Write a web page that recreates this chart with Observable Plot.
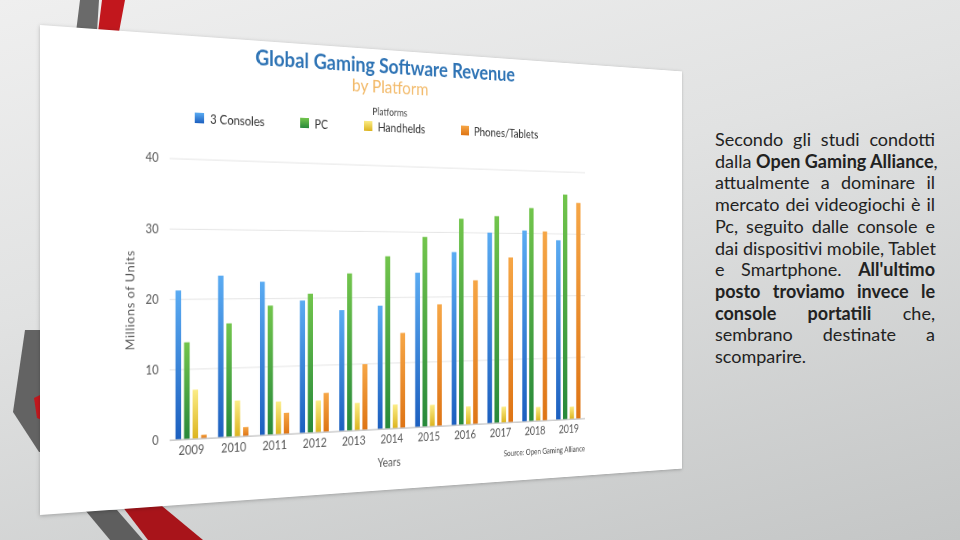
<!DOCTYPE html>
<html>
<head>
<meta charset="utf-8">
<script src="https://cdn.jsdelivr.net/npm/d3@7"></script>
<script src="https://cdn.jsdelivr.net/npm/@observablehq/plot@0.6"></script>
<style>
html,body{margin:0;padding:0;}
body{width:960px;height:540px;overflow:hidden;position:relative;
  background:linear-gradient(165deg,#efefef 0%,#e1e2e2 40%,#c4c6c6 100%);
  font-family:Lato,"Open Sans",sans-serif;}
.deco{position:absolute;left:0;top:0;width:960px;height:540px;}
#card{position:absolute;left:40px;top:25px;width:840px;height:490px;background:#fff;
  transform-origin:0 50%;transform:perspective(1200px) rotateY(19.5deg);
  box-shadow:0 1px 4px rgba(0,0,0,0.25);}
#card .t{position:absolute;white-space:nowrap;}
#title{left:415px;top:6px;transform:translateX(-50%);font-weight:700;font-size:23px;line-height:22px;color:#2f74b5;}
#subtitle{left:415px;top:31px;transform:translateX(-50%);font-size:20px;line-height:18px;color:#f2b968;}
#legtitle{left:414px;top:63px;transform:translateX(-50%);font-size:11px;line-height:12px;color:#444;}
.sw{position:absolute;width:11px;height:11px;top:80px;}
.lab{position:absolute;top:78px;font-size:13.5px;line-height:16px;color:#333;}
#plot{position:absolute;left:0;top:100px;}
#ylab{left:98px;top:276px;transform:translate(-50%,-50%) rotate(-90deg);font-size:13px;letter-spacing:0.6px;color:#595959;}
#xlab{left:413px;top:451px;transform:translateX(-50%);font-size:13px;color:#595959;}
#source{right:151px;top:452px;font-size:9px;color:#444;}
#text{position:absolute;left:715px;top:129px;width:220px;font-size:18px;line-height:21.7px;color:#222;}
#text div{text-align:justify;text-align-last:justify;white-space:nowrap;}
#text div.last{text-align-last:left;}
</style>
</head>
<body>
<div class="deco" style="background:#6a6a6a;clip-path:polygon(80px 0,99px 0,97px 32px,76px 32px);"></div>
<div class="deco" style="background:#c2171d;clip-path:polygon(102px 0,125px 0,119px 32px,98px 32px);"></div>
<div class="deco" style="background:#636363;clip-path:polygon(25px 330px,44px 330px,44px 452px,39px 452px,13px 412px);"></div>
<div class="deco" style="background:#c2171d;clip-path:polygon(34px 398px,42px 394px,42px 420px,37px 418px);"></div>
<div class="deco" style="background:#5e5e5e;clip-path:polygon(85px 510px,117px 510px,143px 540px,110px 540px);"></div>
<div class="deco" style="background:#a8141a;clip-path:polygon(122px 506px,162px 506px,203px 540px,148px 540px);"></div>

<div id="card">
  <div class="t" id="title">Global Gaming Software Revenue</div>
  <div class="t" id="subtitle">by Platform</div>
  <div class="t" id="legtitle">Platforms</div>
  <div id="legend"></div>
  <div id="plot"></div>
  <div class="t" id="ylab">Millions of Units</div>
  <div class="t" id="xlab">Years</div>
  <div class="t" id="source">Source: Open Gaming Alliance</div>
</div>

<div id="text">
  <div>Secondo gli studi condotti</div>
  <div>dalla <b>Open Gaming Alliance</b>,</div>
  <div>attualmente a dominare il</div>
  <div>mercato dei videogiochi è il</div>
  <div>Pc, seguito dalle console e</div>
  <div>dai dispositivi mobile, Tablet</div>
  <div>e Smartphone. <b>All'ultimo</b></div>
  <div><b>posto troviamo invece le</b></div>
  <div><b>console portatili</b> che,</div>
  <div>sembrano destinate a</div>
  <div class="last">scomparire.</div>
</div>

<script>
// ---- data (millions of units) ----
const years = [2009, 2010, 2011, 2012, 2013, 2014, 2015, 2016, 2017, 2018, 2019];
const platforms = ["3 Consoles", "PC", "Handhelds", "Phones/Tablets"];
const consoles  = [21.2, 23.3, 22.4, 19.6, 18.1, 18.7, 23.7, 26.9, 30.0, 30.4, 28.9];
const pc        = [13.8, 16.4, 18.9, 20.6, 23.6, 26.2, 29.2, 32.1, 32.6, 34.0, 36.3];
const handhelds = [7.0, 5.2, 4.8, 4.7, 4.1, 3.6, 3.3, 2.8, 2.5, 2.2, 2.0];
const phones    = [0.5, 1.3, 3.1, 5.8, 9.9, 14.5, 18.8, 22.5, 26.1, 30.3, 35.0];
const yTicks = [0, 10, 20, 30, 40];

const series = [consoles, pc, handhelds, phones];
const gradients = [
  ["gBlue", "#5aabf2", "#1c5fbf"],
  ["gGreen", "#72c54c", "#27893a"],
  ["gYellow", "#fbec86", "#dcb41e"],
  ["gOrange", "#f6a646", "#de7414"]
];
const offsets = [-0.3, -0.1, 0.1, 0.3];
const barW = 0.13;

const data = years.flatMap((yr, i) =>
  platforms.map((p, j) => ({year: yr, platform: p, idx: j, value: series[j][i]})));

const chart = Plot.plot({
  width: 840,
  height: 390,
  marginTop: 28.6,
  marginBottom: 68.3,
  marginLeft: 143,
  marginRight: 151,
  style: {fontFamily: "Lato, 'Open Sans', sans-serif", fontSize: "13px", color: "#595959", background: "transparent"},
  x: {domain: [2008.5, 2019.5], ticks: years, tickFormat: d => String(d), tickSize: 0, tickPadding: 7, label: null},
  y: {domain: [0, 40], ticks: yTicks, tickSize: 0, tickPadding: 13, label: null},
  color: {domain: platforms, range: gradients.map(g => `url(#${g[0]})`)},
  marks: [
    Plot.ruleY(yTicks.slice(1), {stroke: "#e4e4e4"}),
    Plot.rectY(data, {
      x1: d => d.year + offsets[d.idx] - barW / 2,
      x2: d => d.year + offsets[d.idx] + barW / 2,
      y1: 0, y2: "value", fill: "platform"
    }),
    Plot.ruleY([0], {stroke: "#bdbdbd", strokeWidth: 1.2})
  ]
});

const defs = d3.select(chart).insert("defs", ":first-child");
gradients.forEach(([id, a, b]) => {
  const g = defs.append("linearGradient").attr("id", id)
    .attr("x1", 0).attr("y1", 0).attr("x2", 0).attr("y2", 1);
  g.append("stop").attr("offset", "0%").attr("stop-color", a);
  g.append("stop").attr("offset", "100%").attr("stop-color", b);
});
document.getElementById("plot").appendChild(chart);

// legend
const legX = [172, 299, 380, 510];
const leg = document.getElementById("legend");
platforms.forEach((p, j) => {
  const sw = document.createElement("div");
  sw.className = "sw";
  sw.style.left = legX[j] + "px";
  sw.style.background = `linear-gradient(${gradients[j][1]}, ${gradients[j][2]})`;
  leg.appendChild(sw);
  const lb = document.createElement("div");
  lb.className = "lab t";
  lb.style.left = (legX[j] + 18) + "px";
  lb.textContent = p;
  leg.appendChild(lb);
});
</script>
</body>
</html>
